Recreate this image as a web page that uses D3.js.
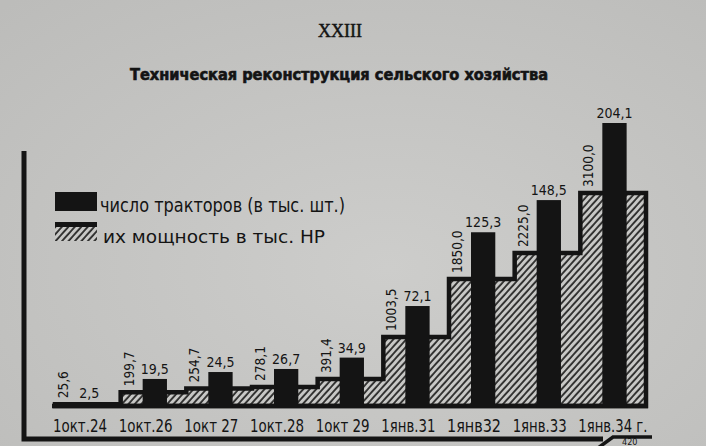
<!DOCTYPE html>
<html>
<head>
<meta charset="utf-8">
<script src="https://cdn.jsdelivr.net/npm/d3@7"></script>
<style>
  html, body { margin: 0; padding: 0; background: #c6c6c4; }
  svg { display: block; }
  .cond { font-family: "DejaVu Sans Condensed", "Liberation Sans Narrow", "DejaVu Sans", sans-serif; font-stretch: condensed; }
</style>
</head>
<body>
<div id="chart"></div>
<script>
// даты учёта
var categories = ["1окт.24", "1окт.26", "1окт 27", "1окт.28", "1окт 29", "1янв.31", "1янв32", "1янв.33", "1янв.34 г."];
// число тракторов, тыс. шт.
var tractors = [2.5, 19.5, 24.5, 26.7, 34.9, 72.1, 125.3, 148.5, 204.1];
// их мощность, тыс. HP
var power = [25.6, 199.7, 254.7, 278.1, 391.4, 1003.5, 1850.0, 2225.0, 3100.0];
var legendLabels = ["число тракторов (в тыс. шт.)", "их мощность в тыс. HP"];

!function() {
    var W = 706, H = 446,
        base = 406,
        ink = "#141414",
        paper = "#c8c8c6";

    var fmt = function(v) { return d3.format(".1f")(v).replace(".", ","); };

    var svg = d3.select("#chart").append("svg")
        .attr("width", W).attr("height", H);

    var defs = svg.append("defs");
    var grad = defs.append("radialGradient").attr("id", "paper")
        .attr("cx", "55%").attr("cy", "60%").attr("r", "80%");
    grad.append("stop").attr("offset", "0%").attr("stop-color", "#cdcdcb");
    grad.append("stop").attr("offset", "100%").attr("stop-color", "#bcbcba");

    var hatch = defs.append("pattern").attr("id", "hatch")
        .attr("patternUnits", "userSpaceOnUse")
        .attr("width", 4.8).attr("height", 10)
        .attr("patternTransform", "rotate(42)");
    hatch.append("rect").attr("width", 4.8).attr("height", 10).attr("fill", paper);
    hatch.append("line").attr("x1", 1).attr("y1", 0).attr("x2", 1).attr("y2", 10)
        .attr("stroke", ink).attr("stroke-width", 1.6);

    svg.append("rect").attr("width", W).attr("height", H).attr("fill", "url(#paper)");

    // scales
    var x = d3.scaleBand().domain(categories).range([55, 646]).padding(0);
    var bw = x.bandwidth();
    var yT = d3.scaleLinear().domain([0, 204.1]).range([base, 123]);
    var yP = d3.scaleLinear().domain([0, 3100]).range([base, 193]);

    // title
    svg.append("text").attr("x", 340).attr("y", 37)
        .attr("text-anchor", "middle")
        .attr("font-family", "Liberation Serif, DejaVu Serif, serif")
        .attr("font-size", 19).attr("fill", ink)
        .attr("stroke", ink).attr("stroke-width", 0.5)
        .attr("textLength", 44).attr("lengthAdjust", "spacingAndGlyphs")
        .text("XXIII");
    svg.append("text").attr("class", "cond")
        .attr("x", 130).attr("y", 80)
        .attr("font-size", 16).attr("font-weight", "bold").attr("fill", ink)
        .attr("stroke", ink).attr("stroke-width", 0.6)
        .attr("textLength", 418).attr("lengthAdjust", "spacingAndGlyphs")
        .text("Техническая реконструкция сельского хозяйства");

    // frame: left line and bottom line
    svg.append("path")
        .attr("d", "M24 151 L24 439 L603 439")
        .attr("fill", "none").attr("stroke", ink).attr("stroke-width", 5);
    svg.append("path")
        .attr("d", "M598 448 L613 437 L652 437")
        .attr("fill", "none").attr("stroke", ink).attr("stroke-width", 3.5);
    svg.append("text").attr("class", "cond")
        .attr("x", 622).attr("y", 445).attr("font-size", 9).attr("fill", ink)
        .text("420");

    // step area for power
    var pts = [[x(categories[0]), base]];
    categories.forEach(function(c, i) { pts.push([x(c), yP(power[i])]); });
    pts.push([x(categories[categories.length - 1]) + bw, yP(power[power.length - 1])]);
    pts.push([x(categories[categories.length - 1]) + bw, base]);

    var step = d3.line().curve(d3.curveStepAfter);
    svg.append("path")
        .attr("d", step(pts) + "Z")
        .attr("fill", "url(#hatch)")
        .attr("stroke", ink).attr("stroke-width", 4.5)
        .attr("stroke-linejoin", "miter");

    // baseline
    svg.append("line")
        .attr("x1", 52).attr("x2", x(categories[categories.length - 1]) + bw + 2)
        .attr("y1", base).attr("y2", base)
        .attr("stroke", ink).attr("stroke-width", 4.5);

    // tractor bars
    var bx = function(c) { return x(c) + bw * 0.335; };
    var bwid = bw * 0.37;
    svg.selectAll("rect.bar").data(categories).enter().append("rect")
        .attr("class", "bar")
        .attr("x", function(c) { return bx(c); })
        .attr("y", function(c, i) { return yT(tractors[i]); })
        .attr("width", bwid)
        .attr("height", function(c, i) { return base + 2 - yT(tractors[i]); })
        .attr("fill", ink);

    // labels on tractors
    svg.selectAll("text.tl").data(categories).enter().append("text")
        .attr("class", "tl cond")
        .attr("x", function(c) { return bx(c) + bwid / 2; })
        .attr("y", function(c, i) { return yT(tractors[i]) - 5; })
        .attr("text-anchor", "middle")
        .attr("font-size", 14).attr("fill", ink)
        .text(function(c, i) { return fmt(tractors[i]); });

    // labels on power (vertical)
    svg.selectAll("text.pl").data(categories).enter().append("text")
        .attr("class", "pl cond")
        .attr("transform", function(c, i) {
            return "translate(" + (x(c) + 13) + "," + (yP(power[i]) - 6) + ") rotate(-90)";
        })
        .attr("font-size", 13.5).attr("fill", ink)
        .text(function(c, i) { return fmt(power[i]); });

    // category labels
    svg.selectAll("text.cat").data(categories).enter().append("text")
        .attr("class", "cat cond")
        .attr("x", function(c) { return x(c) - 2; })
        .attr("y", 432)
        .attr("font-size", 18).attr("fill", ink)
        .attr("textLength", function(c, i) { return i === categories.length - 1 ? 69 : 54; })
        .attr("lengthAdjust", "spacingAndGlyphs")
        .text(function(c) { return c; });

    // legend
    svg.append("rect").attr("x", 55).attr("y", 192).attr("width", 42).attr("height", 19).attr("fill", ink);
    svg.append("rect").attr("x", 55).attr("y", 227).attr("width", 42).attr("height", 14).attr("fill", "url(#hatch)");
    svg.append("rect").attr("x", 55).attr("y", 222).attr("width", 42).attr("height", 5).attr("fill", ink);
    svg.append("text").attr("class", "cond")
        .attr("x", 100).attr("y", 212).attr("font-size", 19).attr("fill", ink)
        .attr("textLength", 245).attr("lengthAdjust", "spacingAndGlyphs")
        .text(legendLabels[0]);
    svg.append("text").attr("class", "cond")
        .attr("x", 103).attr("y", 243).attr("font-size", 18).attr("fill", ink)
        .attr("textLength", 222).attr("lengthAdjust", "spacingAndGlyphs")
        .text(legendLabels[1]);
}();
</script>
</body>
</html>
